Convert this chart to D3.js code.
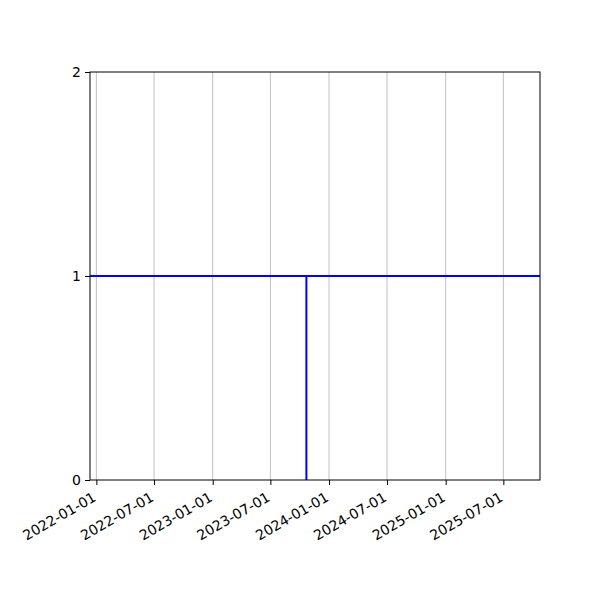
<!DOCTYPE html>
<html lang="en">
    <head>
        <meta charset="utf-8">
        <title>Step line</title>
        <script src="https://d3js.org/d3.v7.min.js"></script>
        <style type="text/css">
            body { margin: 0; background: #fff; }
            text { font-family: "DejaVu Sans", sans-serif; font-size: 14px; fill: #000; }
        </style>
    </head>
    <body>
        <script type="text/javascript">

            const w = 600;
            const h = 600;
            const parseTime = d3.timeParse("%Y-%m-%d");

            // data
            const xDomain = ["2021-12-12", "2025-10-24"];
            const yDomain = [0, 2];
            const xTicks = ["2022-01-01", "2022-07-01", "2023-01-01", "2023-07-01",
                            "2024-01-01", "2024-07-01", "2025-01-01", "2025-07-01"];
            const yTicks = [0, 1, 2];
            const hLevel = 1;              // horizontal line value
            const vDate = "2023-10-22";    // vertical line date
            const vRange = [0, 1];         // vertical line extent

            const mLeft = 90, mRight = 540, mTop = 72, mBottom = 480;

            const xScale = d3.scaleTime()
                             .domain(xDomain.map(parseTime))
                             .range([mLeft, mRight]);

            const yScale = d3.scaleLinear()
                             .domain(yDomain)
                             .range([mBottom, mTop]);

            const svg = d3.select("body")
                          .append("svg")
                          .attr("width", w)
                          .attr("height", h);

            // grid
            svg.append("g")
               .selectAll("line")
               .data(xTicks.map(parseTime))
               .enter()
               .append("line")
               .attr("x1", d => xScale(d))
               .attr("x2", d => xScale(d))
               .attr("y1", mTop)
               .attr("y2", mBottom)
               .attr("stroke", "#b0b0b0")
               .attr("stroke-width", 0.8);

            // lines
            svg.append("line")
               .attr("x1", mLeft)
               .attr("x2", mRight)
               .attr("y1", yScale(hLevel))
               .attr("y2", yScale(hLevel))
               .attr("stroke", "blue")
               .attr("stroke-width", 2);

            svg.append("line")
               .attr("x1", xScale(parseTime(vDate)))
               .attr("x2", xScale(parseTime(vDate)))
               .attr("y1", yScale(vRange[0]))
               .attr("y2", yScale(vRange[1]))
               .attr("stroke", "blue")
               .attr("stroke-width", 2);

            // frame
            svg.append("rect")
               .attr("x", mLeft)
               .attr("y", mTop)
               .attr("width", mRight - mLeft)
               .attr("height", mBottom - mTop)
               .attr("fill", "none")
               .attr("stroke", "#000")
               .attr("stroke-width", 1);

            const bottomAxis = d3.axisBottom(xScale)
                                 .tickValues(xTicks.map(parseTime))
                                 .tickFormat(d3.timeFormat("%Y-%m-%d"))
                                 .tickSizeInner(5)
                                 .tickSizeOuter(0);

            const xg = svg.append("g")
                          .attr("transform", "translate(0," + mBottom + ")")
                          .call(bottomAxis);
            xg.select(".domain").remove();
            xg.selectAll("text")
              .style("font-size", "14px")
              .attr("text-anchor", "end")
              .attr("dy", null)
              .attr("y", 0)
              .attr("transform", "translate(-5,11) rotate(-30)")
              .attr("dominant-baseline", "hanging");

            const leftAxis = d3.axisLeft(yScale)
                               .tickValues(yTicks)
                               .tickFormat(d3.format("d"))
                               .tickSizeInner(5)
                               .tickSizeOuter(0);

            const yg = svg.append("g")
                          .attr("transform", "translate(" + mLeft + ",0)")
                          .call(leftAxis);
            yg.select(".domain").remove();
            yg.selectAll("text")
              .style("font-size", "14px")
              .attr("x", -9);

        </script>
    </body>
</html>
